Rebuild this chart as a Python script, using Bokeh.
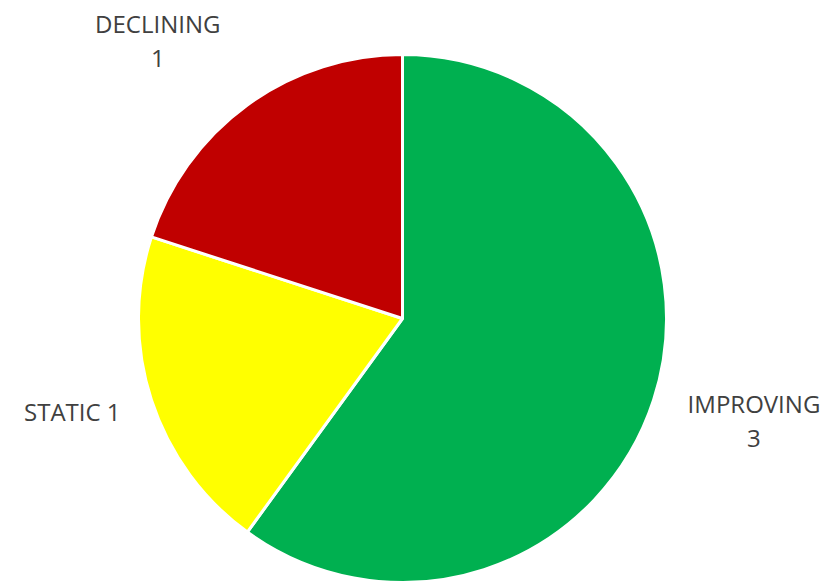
import math
from bokeh.plotting import figure
from bokeh.models import Range1d, ColumnDataSource
from bokeh.core.properties import value
from bokeh.embed import file_html
from bokeh.resources import INLINE

# ---- data ----
categories = ["IMPROVING", "STATIC", "DECLINING"]
values = [3, 1, 1]
colors = ["#00B050", "#FFFF00", "#C00000"]

# ---- layout ----
W, H = 837, 582
CX, CY = 402, H - 318      # pie centre in plot coords (x right, y up)
R = 264
# label placement (angle in degrees, distance in px from centre) and whether two-line
label_angle = [-16.2, 195.7, 131.4]
label_dist = [366, 343, 370]
label_split = [True, False, True]
FONT = "Open Sans"
FSIZE = "24px"
LINE_GAP = 35
TEXT_COLOR = "#404040"

total = float(sum(values))
starts, ends = [], []
a = math.pi / 2
for v in values:
    span = 2 * math.pi * v / total
    starts.append(a)
    ends.append(a - span)
    a -= span

p = figure(width=W, height=H, output_backend="svg", toolbar_location=None,
           x_range=Range1d(0, W), y_range=Range1d(0, H), min_border=0,
           outline_line_color=None, background_fill_color="white")
p.axis.visible = False
p.grid.visible = False

src = ColumnDataSource(dict(start=starts, end=ends, color=colors))
p.wedge(x=CX, y=CY, radius=R, start_angle="start", end_angle="end",
        direction="clock", fill_color="color", line_color="white",
        line_width=3, source=src)

tx, ty, tt = [], [], []
for cat, v, ang, d, split in zip(categories, values, label_angle, label_dist, label_split):
    lx = CX + d * math.cos(math.radians(ang))
    ly = CY + d * math.sin(math.radians(ang))
    if split:
        tx += [lx, lx]
        ty += [ly + LINE_GAP / 2, ly - LINE_GAP / 2]
        tt += [cat, str(v)]
    else:
        tx.append(lx)
        ty.append(ly)
        tt.append(f"{cat} {v}")

p.text(x=tx, y=ty, text=tt, text_font=value(FONT), text_font_size=FSIZE,
       text_color=TEXT_COLOR, text_align="center", text_baseline="middle")

open("out.html", "w").write(file_html(p, INLINE))
